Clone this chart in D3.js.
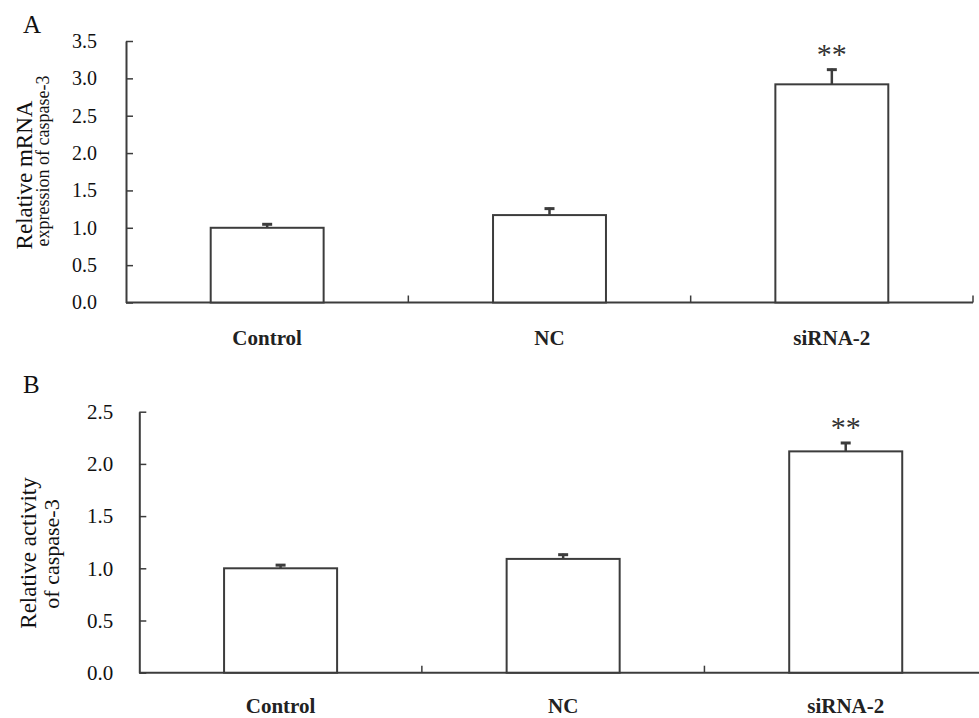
<!DOCTYPE html>
<html>
<head>
<meta charset="utf-8">
<script src="https://cdn.jsdelivr.net/npm/d3@7"></script>
<style>
  body { margin: 0; background: #fff; }
  svg { display: block; }
  svg text { font-family: "Liberation Serif", "Times New Roman", serif; }
</style>
</head>
<body>
<svg id="chart" width="979" height="718"></svg>
<script>
// data
const categories = ["Control", "NC", "siRNA-2"];
const mrnaMeans = [1.00, 1.17, 2.92];
const mrnaErrors = [0.06, 0.10, 0.21];
const activityMeans = [1.00, 1.09, 2.12];
const activityErrors = [0.04, 0.05, 0.09];
const mrnaTicks = [0, 0.5, 1.0, 1.5, 2.0, 2.5, 3.0, 3.5];
const activityTicks = [0, 0.5, 1.0, 1.5, 2.0, 2.5];
const significance = ["", "", "**"];

const svg = d3.select("#chart");
const lineColor = "#3c3c3c";

function drawPanel(p) {
  const g = svg.append("g");
  const y = d3.scaleLinear().domain([0, p.ticks[p.ticks.length - 1]]).range([p.bottom, p.top]);
  const x = d3.scaleBand().domain(categories).range([p.left, p.right]).padding(0);
  const bw = x.bandwidth() * 0.4;

  // panel letter
  g.append("text").attr("x", p.letterX).attr("y", p.letterY)
    .attr("font-size", 25).attr("fill", "#111").text(p.letter);

  // y axis, ticks inward
  const yAxis = g.append("g").attr("transform", "translate(" + p.left + ",0)")
    .call(d3.axisLeft(y).tickValues(p.ticks).tickFormat(d3.format(".1f"))
      .tickSizeInner(-7).tickSizeOuter(0).tickPadding(p.tickPad));
  yAxis.select(".domain").attr("stroke", lineColor).attr("stroke-width", 2);
  yAxis.selectAll(".tick line").attr("stroke", lineColor).attr("stroke-width", 1.5);
  yAxis.selectAll(".tick text").attr("font-size", p.tickFont).attr("fill", "#111")
    .style("font-family", "'Liberation Serif', 'Times New Roman', serif");

  // x axis line with boundary ticks pointing up
  g.append("line").attr("x1", p.left).attr("x2", p.right)
    .attr("y1", y(0)).attr("y2", y(0))
    .attr("stroke", lineColor).attr("stroke-width", 2);
  const bounds = categories.slice(1).map(c => x(c)).concat([p.right]);
  g.selectAll(".xtick").data(bounds).enter().append("line")
    .attr("x1", d => d).attr("x2", d => d)
    .attr("y1", y(0)).attr("y2", y(0) - 7)
    .attr("stroke", lineColor).attr("stroke-width", 1.5);

  // bars
  g.selectAll(".bar").data(p.means).enter().append("rect")
    .attr("x", (d, i) => x(categories[i]) + (x.bandwidth() - bw) / 2)
    .attr("y", d => y(d))
    .attr("width", bw)
    .attr("height", d => y(0) - y(d))
    .attr("fill", "#fff").attr("stroke", lineColor).attr("stroke-width", 2);

  // error bars (upper only)
  const cx = i => x(categories[i]) + x.bandwidth() / 2;
  g.selectAll(".err").data(p.means).enter().append("line")
    .attr("x1", (d, i) => cx(i)).attr("x2", (d, i) => cx(i))
    .attr("y1", d => y(d)).attr("y2", (d, i) => y(d + p.errors[i]))
    .attr("stroke", lineColor).attr("stroke-width", 2.5);
  g.selectAll(".cap").data(p.means).enter().append("line")
    .attr("x1", (d, i) => cx(i) - 5).attr("x2", (d, i) => cx(i) + 5)
    .attr("y1", (d, i) => y(d + p.errors[i]) + 1).attr("y2", (d, i) => y(d + p.errors[i]) + 1)
    .attr("stroke", lineColor).attr("stroke-width", 3);

  // significance stars
  g.selectAll(".sig").data(p.means).enter().append("text")
    .attr("x", (d, i) => cx(i))
    .attr("y", (d, i) => y(d + p.errors[i]) - 5)
    .attr("text-anchor", "middle").attr("font-size", 30).attr("fill", "#333")
    .text((d, i) => significance[i]);

  // category labels
  g.selectAll(".cat").data(categories).enter().append("text")
    .attr("x", d => x(d) + x.bandwidth() / 2)
    .attr("y", y(0) + p.catOffset)
    .attr("text-anchor", "middle").attr("font-size", 21).attr("font-weight", "bold")
    .attr("fill", "#222").text(d => d);

  // y title, two lines
  p.title.forEach(t => {
    g.append("text")
      .attr("transform", "translate(" + t.x + "," + t.cy + ") rotate(-90)")
      .attr("text-anchor", "middle").attr("font-size", t.size).attr("fill", "#111")
      .text(t.text);
  });
}

drawPanel({
  letter: "A", letterX: 23, letterY: 33,
  top: 41, bottom: 302.5, left: 126, right: 973,
  ticks: mrnaTicks, means: mrnaMeans, errors: mrnaErrors,
  tickPad: 29, tickFont: 20, catOffset: 42,
  title: [
    { text: "Relative mRNA", x: 32, cy: 175, size: 23 },
    { text: "expression of caspase-3", x: 49, cy: 161, size: 18 }
  ]
});

drawPanel({
  letter: "B", letterX: 23, letterY: 393,
  top: 411.7, bottom: 672.7, left: 139.3, right: 987,
  ticks: activityTicks, means: activityMeans, errors: activityErrors,
  tickPad: 26, tickFont: 21, catOffset: 40,
  title: [
    { text: "Relative activity", x: 36, cy: 553, size: 23 },
    { text: "of caspase-3", x: 59, cy: 554, size: 22 }
  ]
});
</script>
</body>
</html>
